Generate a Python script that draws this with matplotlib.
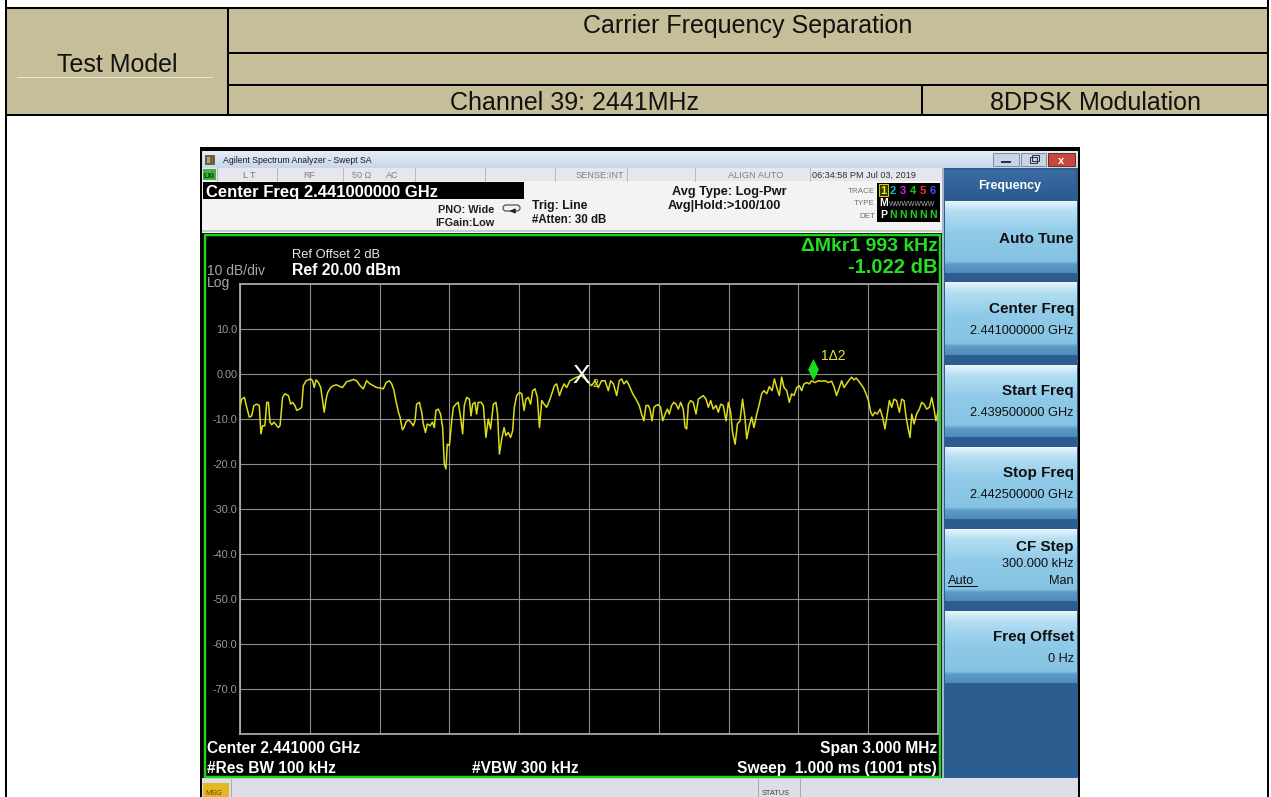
import matplotlib.pyplot as plt
import numpy as np
from matplotlib.patches import Rectangle, FancyBboxPatch
from matplotlib.path import Path
from matplotlib.colors import to_rgb

plt.rcParams['font.family'] = ['Liberation Sans', 'DejaVu Sans']

# ---------------- data ----------------
test_label = 'Test Model'
item_label = 'Carrier Frequency Separation'
channel_label = 'Channel 39: 2441MHz'
modulation_label = '8DPSK Modulation'

start_mhz = 2439.5
stop_mhz = 2442.5
ref_dbm = 20.0

# trace: offset from start freq (kHz) and level (dBm)
trace_khz = [
    0, 7, 19, 29, 40, 50, 60, 72, 83, 90,
    97, 107, 115, 122, 129, 136, 146, 155, 165, 172,
    183, 193, 208, 218, 226, 236, 244, 255, 265, 272,
    284, 294, 304, 312, 319, 327, 337, 347, 355, 362,
    370, 377, 390, 401, 415, 430, 441, 458, 473, 487,
    501, 516, 530, 544, 559, 573, 587, 602, 616, 628,
    642, 652, 662, 670, 681, 688, 698, 705, 713, 724,
    734, 745, 752, 759, 771, 781, 788, 797, 805, 817,
    827, 835, 842, 852, 862, 871, 878, 885, 891, 900,
    910, 917, 928, 938, 948, 957, 964, 974, 986, 993,
    1000, 1010, 1017, 1024, 1036, 1046, 1057, 1067, 1077, 1089,
    1100, 1107, 1115, 1125, 1135, 1143, 1153, 1163, 1172, 1179,
    1189, 1201, 1211, 1221, 1229, 1239, 1249, 1258, 1268, 1278,
    1287, 1297, 1307, 1318, 1330, 1340, 1351, 1361, 1373, 1383,
    1393, 1404, 1418,
    1433, 1447, 1468, 1483, 1497, 1511, 1526, 1540, 1554, 1569,
    1583, 1593, 1605, 1619, 1630, 1640, 1650, 1662, 1673, 1688,
    1702, 1716, 1726, 1736, 1745, 1755, 1762, 1771, 1779, 1788,
    1798, 1808, 1817, 1827, 1837, 1845, 1855, 1865, 1874, 1884,
    1894, 1905, 1913, 1920, 1927, 1937, 1948, 1960, 1970, 1980,
    1991, 2003, 2013, 2023, 2034, 2046, 2056, 2066, 2077, 2089,
    2099, 2109, 2117, 2128, 2138, 2149, 2160, 2170, 2178, 2189,
    2199, 2209, 2221, 2232, 2242, 2252, 2264, 2275, 2287, 2297,
    2307, 2318, 2328, 2338, 2350, 2361, 2371, 2381, 2393, 2404,
    2414, 2424, 2436, 2447, 2457, 2471, 2486, 2500, 2514, 2529,
    2543, 2554, 2564, 2576, 2586, 2596, 2607, 2619, 2629, 2639,
    2648, 2658, 2668, 2679, 2691, 2701, 2711, 2719, 2729, 2739,
    2751, 2762, 2772, 2782, 2791, 2801, 2811, 2822, 2834, 2844,
    2854, 2863, 2872, 2880, 2887, 2897, 2908, 2920, 2930, 2940,
    2951, 2963, 2973, 2983, 2991, 3000,
]
trace_db = [
    -7.4, -5.6, -5.2, -7.4, -9.6, -9.3, -7.0, -6.7, -7.0, -13.3,
    -11.5, -11.5, -6.3, -6.3, -10.7, -11.3, -10.7, -11.3, -11.9, -11.5,
    -5.2, -4.4, -4.8, -6.7, -6.3, -7.0, -8.1, -7.8, -7.4, -2.6,
    -1.5, -1.3, -1.1, -1.5, -3.0, -1.3, -1.9, -3.0, -5.9, -8.5,
    -5.6, -4.1, -3.0, -2.6, -2.4, -2.8, -3.0, -1.7, -1.5, -1.2,
    -1.5, -2.6, -3.3, -1.5, -2.2, -2.6, -3.0, -3.1, -3.3, -1.9,
    -1.5, -2.2, -3.7, -5.9, -8.5, -9.6, -12.4, -11.9, -10.7, -10.2,
    -10.7, -11.5, -10.4, -6.7, -6.3, -8.5, -11.1, -13.0, -11.1, -11.5,
    -10.7, -11.9, -8.1, -7.8, -8.9, -11.9, -20.0, -21.1, -15.6, -15.9,
    -10.4, -7.4, -6.7, -6.3, -9.6, -13.3, -7.0, -5.2, -5.6, -9.3,
    -6.7, -6.3, -8.9, -6.3, -6.3, -7.0, -14.1, -10.0, -12.2, -6.7,
    -6.3, -8.9, -17.8, -14.4, -11.9, -13.7, -13.0, -14.1, -12.6, -7.4,
    -4.8, -4.1, -4.4, -8.1, -5.6, -5.2, -6.7, -3.7, -3.3, -5.2,
    -11.9, -5.9, -6.7, -7.4, -5.9, -4.4, -2.6, -2.2, -4.8, -3.3,
    -2.2, -3.0, -1.5,
    -1.1, -0.7, -0.4, -1.1, -1.9, -2.6, -1.5, -3.0, -1.5, -1.5,
    -3.7, -1.5, -2.2, -4.8, -1.5, -1.1, -2.2, -1.5, -2.6, -4.4,
    -5.6, -7.0, -8.9, -10.4, -7.0, -7.0, -7.8, -10.4, -7.4, -7.0,
    -6.8, -7.4, -10.4, -8.9, -7.8, -8.9, -7.0, -6.3, -6.7, -7.8,
    -6.3, -7.8, -11.9, -12.2, -6.7, -5.9, -6.3, -8.9, -5.6, -5.2,
    -4.8, -5.6, -7.4, -5.9, -7.8, -7.0, -8.5, -6.7, -7.0, -10.4,
    -6.3, -8.5, -13.0, -15.6, -11.1, -10.4, -5.6, -9.6, -14.4, -11.5,
    -9.6, -11.9, -8.9, -6.7, -4.4, -3.7, -4.4, -2.8, -3.7, -1.1,
    -3.0, -4.8, -0.7, -3.0, -3.7, -6.3, -4.4, -4.8, -3.0, -2.6,
    -3.7, -2.2, -1.9, -2.2, -1.5, -1.9, -1.5, -1.6, -1.5, -1.9,
    -1.6, -3.0, -4.8, -3.0, -1.5, -3.0, -2.2, -1.3, -0.7, -1.3,
    -0.9, -1.5, -2.2, -3.0, -4.4, -5.9, -8.5, -9.3, -8.5, -8.9,
    -7.8, -9.6, -12.2, -8.9, -5.9, -7.4, -5.6, -5.9, -8.5, -5.6,
    -5.9, -9.6, -12.2, -14.1, -8.9, -11.1, -8.9, -7.8, -6.3, -6.7,
    -7.8, -7.4, -5.2, -7.8, -10.4, -8.5,
]

mkr2_khz = 1468.6
mkr2_db = -0.4
dmkr_khz = 993
dmkr_db = -1.022

ytick_vals = [10, 0, -10, -20, -30, -40, -50, -60, -70]
ytick_labels = ['10.0', '0.00', '-10.0', '-20.0', '-30.0', '-40.0', '-50.0', '-60.0', '-70.0']

softkey_titles = ['Auto Tune', 'Center Freq', 'Start Freq', 'Stop Freq', 'CF Step', 'Freq Offset']
softkey_values = ['', '2.441000000 GHz', '2.439500000 GHz', '2.442500000 GHz', '300.000 kHz', '0 Hz']

# ---------------- canvas (pixel coords) ----------------
W, H = 1271, 797
PX = 0.72  # points per pixel at 100 dpi
fig = plt.figure(figsize=(W / 100, H / 100), dpi=100, facecolor='white')
bg = fig.add_axes([0, 0, 1, 1])
bg.set_xlim(0, W)
bg.set_ylim(H, 0)
bg.axis('off')


def rect(x0, y0, x1, y1, fc, ec='none', lw=0, z=1):
    bg.add_patch(Rectangle((x0, y0), x1 - x0, y1 - y0, facecolor=fc,
                           edgecolor=ec, linewidth=lw * PX, zorder=z))


def line(xs, ys, c='black', lw=2, z=4):
    bg.plot(xs, ys, color=c, linewidth=lw * PX, zorder=z, solid_capstyle='projecting')


def grad(x0, y0, x1, y1, stops, z=2):
    t = np.linspace(0, 1, 120)
    pos = [s[0] for s in stops]
    cols = np.array([to_rgb(s[1]) for s in stops])
    img = np.stack([np.interp(t, pos, cols[:, k]) for k in range(3)], axis=-1)[:, None, :]
    bg.imshow(img, extent=(x0, x1, y1, y0), aspect='auto', zorder=z, interpolation='bilinear')


def txt(x, y, s, size, c='black', ha='left', bold=False, z=6, **kw):
    bg.text(x, y, s, fontsize=size, color=c, ha=ha, va='baseline',
            fontweight='bold' if bold else 'normal', zorder=z, **kw)


# ---------------- report table ----------------
rect(6, 8, 1268, 115, '#c6be98')
line([6, 6], [0, H])
line([1268, 1268], [0, H])
line([6, 1268], [8, 8])
line([6, 1268], [115, 115])
line([228, 228], [8, 115])
line([228, 1268], [53, 53])
line([228, 1268], [85, 85])
line([922, 922], [85, 115])
line([17, 212], [77, 77], c='#ebe7d8', lw=1)
txt(748, 33, item_label, 18, c='#111111', ha='center')
txt(117, 72, test_label, 18, c='#111111', ha='center')
txt(575, 110, channel_label, 18, c='#111111', ha='center')
txt(1095, 110, modulation_label, 18, c='#111111', ha='center')

# ---------------- analyzer window ----------------
rect(200, 147, 1080, H, 'black', z=1)
grad(202, 151, 1078, 168, [(0, '#e4edf7'), (1, '#c8d7e9')])
rect(205, 155, 215, 165, '#6e6040', z=3)
rect(207, 157, 210, 163, '#b8a060', z=3)
txt(223, 163, 'Agilent Spectrum Analyzer - Swept SA', 6.3, c='#1a1a2a')
# window buttons
rect(993, 153, 1019, 166, '#c8d4e4', ec='#7e8ea6', lw=1, z=3)
rect(1021, 153, 1046, 166, '#c8d4e4', ec='#7e8ea6', lw=1, z=3)
rect(1048, 153, 1075, 166, '#c8473c', ec='#7a2a24', lw=1, z=3)
line([1002, 1010], [162, 162], c='#303040', lw=2, z=5)
rect(1030, 157, 1037, 163, 'none', ec='#303040', lw=1, z=5)
rect(1032, 155, 1039, 161, 'none', ec='#303040', lw=1, z=5)
txt(1061.5, 164, 'x', 8, c='white', ha='center', bold=True)

# status row
rect(202, 168, 942, 181, '#e6e6ec', z=2)
for sx in [217, 277, 343, 415, 485, 555, 627, 695, 810]:
    line([sx, sx], [168, 181], c='#b8b8c0', lw=1, z=3)
rect(203, 169, 216, 180, '#3cb43c', z=3)
txt(204, 178, 'LXI', 5, c='#102010', bold=True)
txt(243, 178, 'L T', 6.5, c='#707070')
txt(303, 178, 'RF', 6.5, c='#808080')
txt(352, 178, '50 Ω', 6.5, c='#808080')
txt(386, 178, 'AC', 6.5, c='#808080')
txt(624, 178, 'SENSE:INT', 6.7, c='#808080', ha='right')
txt(756, 178, 'ALIGN AUTO', 6.7, c='#808080', ha='center')
txt(812, 178, '06:34:58 PM Jul 03, 2019', 6.6, c='#303030')

# info panel
rect(202, 181, 942, 233, '#f3f3f3', z=2)
line([203, 942], [231, 231], c='#c8c8c8', lw=2, z=3)
rect(203, 182, 524, 199, 'black', z=3)
txt(206, 197, 'Center Freq 2.441000000 GHz', 12, c='white', bold=True)
txt(494, 213, 'PNO: Wide', 7.8, c='#202020', ha='right', bold=True)
txt(495, 226, 'IFGain:Low', 7.8, c='#202020', ha='right', bold=True)
bg.add_patch(FancyBboxPatch((503, 205), 17, 6, boxstyle='round,pad=0,rounding_size=3',
                            facecolor='none', edgecolor='#505050', linewidth=0.9, zorder=4))
bg.annotate('', xy=(507, 211), xytext=(515, 211), zorder=5,
            arrowprops=dict(arrowstyle='-|>', color='#202020', lw=1.2, mutation_scale=6))
txt(532, 209, 'Trig: Line', 8.8, c='#151515', bold=True)
txt(532, 223, '#Atten: 30 dB', 8.3, c='#151515', bold=True)
txt(672, 195, 'Avg Type: Log-Pwr', 9.2, c='#151515', bold=True)
txt(668, 209, 'Avg|Hold:>100/100', 9.2, c='#151515', bold=True)
txt(875, 193, 'TRACE', 5.8, c='#707070', ha='right')
txt(875, 205, 'TYPE', 5.8, c='#707070', ha='right')
txt(875, 218, 'DET', 5.8, c='#707070', ha='right')
rect(877, 183, 940, 222, 'black', z=3)
rect(879, 184, 888, 196, '#3a3a00', ec='#d8c800', lw=1, z=4)
txt(883.5, 194, '1', 8, c='#f0f000', ha='center', bold=True)
for cx, lab, col in zip([893, 903, 913, 923, 933], ['2', '3', '4', '5', '6'],
                        ['#00c8c8', '#e020e0', '#20c020', '#ff3030', '#4050ff']):
    txt(cx, 194, lab, 8, c=col, ha='center', bold=True)
txt(883.5, 206, 'M', 7.5, c='white', ha='center', bold=True)
txt(889, 206, 'WWWWWWW', 5, c='#b0b0b0')
txt(883.5, 218, 'P', 7.5, c='white', ha='center', bold=True)
for cx in [893, 903, 913, 923, 933]:
    txt(cx, 218, 'N', 7.5, c='#20d020', ha='center', bold=True)

# display area
rect(202, 233, 942, 778, 'black', z=2)
rect(204.5, 234.5, 940, 777, 'none', ec='#1ed21e', lw=2.5, z=5)
txt(292, 258, 'Ref Offset 2 dB', 9.3, c='#e8e8e8')
txt(207, 275, '10 dB/div', 10, c='#a8a8a8')
txt(292, 275, 'Ref 20.00 dBm', 11.3, c='white', bold=True)
txt(207, 287, 'Log', 10, c='#a8a8a8')
txt(938, 251, 'ΔMkr1 993 kHz', 14, c='#22e022', ha='right', bold=True)
txt(938, 273, '-1.022 dB', 14.5, c='#22e022', ha='right', bold=True)
txt(207, 753, 'Center 2.441000 GHz', 11.2, c='white', bold=True)
txt(937, 753, 'Span 3.000 MHz', 11.2, c='white', ha='right', bold=True)
txt(207, 773, '#Res BW 100 kHz', 11.2, c='white', bold=True)
txt(472, 773, '#VBW 300 kHz', 11.2, c='white', bold=True)
txt(937, 773, 'Sweep  1.000 ms (1001 pts)', 11.2, c='white', ha='right', bold=True)

# soft key panel
rect(942, 168, 1078, 778, '#2d5c90', z=2)
line([942.5, 942.5], [168, 778], c='#c8d4e0', lw=1.5, z=3)
grad(944, 170, 1076, 200, [(0, '#3a6ca2'), (1, '#2b5a8e')], z=3)
txt(1010, 189, 'Frequency', 9, c='white', ha='center', bold=True)
btn_tops = [201, 283, 365, 447, 529, 611]
btn_stops = [(0, '#e8f5fc'), (0.14, '#b4def2'), (0.45, '#8fcae8'), (0.84, '#86c3e2'),
             (0.88, '#5d9cc7'), (1, '#4e8bbb')]
for top, title, val in zip(btn_tops, softkey_titles, softkey_values):
    grad(945, top, 1077, top + 72, btn_stops, z=3)
    if title == 'Auto Tune':
        txt(1074, top + 42, title, 11, c='#101010', ha='right', bold=True)
    elif title == 'CF Step':
        txt(1074, top + 22, title, 11, c='#101010', ha='right', bold=True)
        txt(1074, top + 38, val, 9.2, c='#101010', ha='right')
        txt(948, top + 55, 'Auto', 9.2, c='#101010')
        line([948, 977], [top + 57, top + 57], c='#101010', lw=1, z=6)
        txt(1074, top + 55, 'Man', 9.2, c='#101010', ha='right')
    else:
        txt(1074, top + 30, title, 11, c='#101010', ha='right', bold=True)
        txt(1074, top + 51, val, 9.2, c='#101010', ha='right')

# bottom status bar
rect(202, 778, 1078, H, '#dedee6', z=2)
rect(203, 783, 229, H, '#e4b820', z=3)
txt(205, 795, 'MSG', 5.3, c='#6a4a00')
for sx in [231, 758, 800]:
    line([sx, sx], [779, H], c='#a8a8b0', lw=1, z=3)
txt(762, 795, 'STATUS', 5.3, c='#404040')

# ---------------- spectrum graticule ----------------
ax = fig.add_axes([240 / W, 1 - 734 / H, 698 / W, 450 / H])
ax.set_facecolor('black')
freq = start_mhz + np.array(trace_khz) / 1000.0
ax.plot(freq, trace_db, color='#dcdc18', linewidth=1.1, zorder=3)
ax.set_xlim(start_mhz, stop_mhz)
ax.set_ylim(ref_dbm - 100, ref_dbm)
ax.set_xticks(np.linspace(start_mhz, stop_mhz, 11))
ax.set_xticklabels([])
ax.set_yticks(ytick_vals, ytick_labels)
ax.tick_params(length=0, labelsize=7.8, labelcolor='#9a9a9a', pad=2)
ax.grid(True, color='#8c8c8c', linewidth=0.8, zorder=1)
ax.set_axisbelow(True)
for s in ax.spines.values():
    s.set_color('#a8a8a8')
    s.set_linewidth(1.3)

# marker 2 (reference) and delta marker 1
f2 = start_mhz + mkr2_khz / 1000.0
ax.text(f2, mkr2_db, 'X', fontsize=19, color='white', ha='center', va='center', zorder=5)
ax.annotate('2', (f2, mkr2_db), xytext=(11, -8), textcoords='offset pixels',
            fontsize=7.5, color='#e8e830', ha='left', va='center', zorder=5)
f1 = f2 + dmkr_khz / 1000.0
lvl1 = mkr2_db + dmkr_db
diamond = Path([(0, 0), (-0.5, 1), (0, 2), (0.5, 1), (0, 0)],
               [Path.MOVETO, Path.LINETO, Path.LINETO, Path.LINETO, Path.CLOSEPOLY])
ax.plot([f1], [lvl1], marker=diamond, markersize=31, color='#18e018',
        markeredgewidth=0, zorder=6)
ax.annotate('1Δ2', (f1, lvl1), xytext=(8, 24), textcoords='offset pixels',
            fontsize=10, color='#e8e830', ha='left', va='center', zorder=6)

bg.set_xlim(0, W)
bg.set_ylim(H, 0)
fig.savefig('out.png', dpi=100, facecolor='white')
